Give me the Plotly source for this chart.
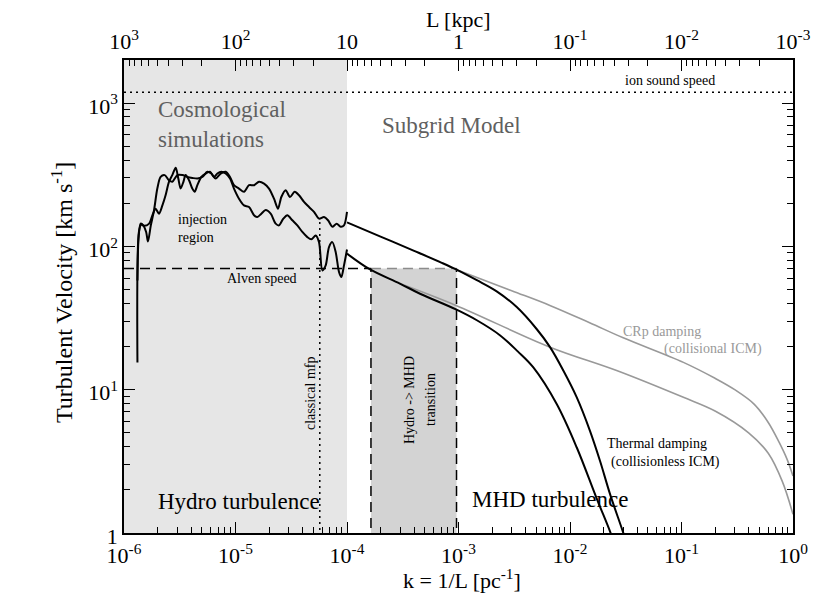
import plotly.graph_objects as go

# ---------------- data ----------------
# simulated spectra (two runs), k in pc^-1, v in km/s
k_sim_a = [1.32e-6, 1.35e-6, 1.41e-6, 1.49e-6, 1.58e-6, 1.64e-6, 1.74e-6, 1.86e-6, 1.99e-6, 2.13e-6,
           2.32e-6, 2.53e-6, 2.71e-6, 3.01e-6, 3.34e-6, 3.70e-6, 4.10e-6, 4.55e-6, 5.04e-6, 5.59e-6,
           6.07e-6, 6.64e-6, 7.36e-6, 8.16e-6, 8.93e-6, 9.69e-6, 1.075e-5, 1.192e-5, 1.322e-5, 1.466e-5,
           1.625e-5, 1.802e-5, 1.998e-5, 2.215e-5, 2.406e-5, 2.577e-5, 2.818e-5, 3.082e-5, 3.394e-5, 3.712e-5,
           4.116e-5, 4.564e-5, 5.058e-5, 5.610e-5, 6.219e-5, 6.754e-5, 7.386e-5, 8.079e-5, 8.775e-5, 9.400e-5,
           1.0e-4]
v_sim_a = [57.8, 113, 144, 140, 126, 108, 140, 179, 253, 305,
           314, 289, 282, 314, 314, 305, 300, 297, 305, 331,
           322, 297, 322, 331, 305, 267, 253, 240, 267, 267,
           282, 274, 253, 215, 183, 221, 246, 221, 240, 227,
           204, 188, 174, 156, 160, 152, 137, 144, 137, 140,
           174]

k_sim_b = [1.32e-6, 1.36e-6, 1.43e-6, 1.51e-6, 1.68e-6, 1.80e-6, 1.92e-6, 2.06e-6, 2.21e-6, 2.36e-6,
           2.53e-6, 2.71e-6, 2.91e-6, 3.07e-6, 3.22e-6, 3.41e-6, 3.57e-6, 3.83e-6, 4.10e-6, 4.30e-6,
           4.55e-6, 4.94e-6, 5.40e-6, 5.91e-6, 6.42e-6, 6.87e-6, 7.46e-6, 8.16e-6, 8.93e-6, 9.69e-6,
           1.075e-5, 1.192e-5, 1.322e-5, 1.466e-5, 1.570e-5, 1.705e-5, 1.865e-5, 2.068e-5, 2.293e-5, 2.455e-5,
           2.685e-5, 2.917e-5, 3.234e-5, 3.586e-5, 3.977e-5, 4.410e-5, 4.788e-5, 5.236e-5, 5.610e-5, 6.009e-5,
           6.438e-5, 6.895e-5, 7.386e-5, 7.914e-5, 8.477e-5, 8.897e-5, 9.400e-5, 1.0e-4]
v_sim_b = [15.5, 126, 142, 139, 144, 165, 183, 169, 193, 227,
           282, 314, 353, 297, 253, 282, 314, 289, 253, 240,
           267, 305, 322, 331, 305, 322, 331, 322, 297, 253,
           215, 193, 188, 165, 160, 169, 179, 169, 144, 140,
           156, 165, 152, 140, 126, 116, 112, 119, 107, 67.9,
           73.6, 98.9, 107, 91.3, 66.2, 61.0, 73.6, 95]

# subgrid model: thermal damping (collisionless ICM), two cases
k_therm_a = [1.0e-4, 2.0e-4, 4.0e-4, 7.0e-4, 9.5e-4, 1.46e-3, 2.20e-3, 3.33e-3, 5.02e-3, 6.62e-3,
             8.71e-3, 1.15e-2, 1.51e-2, 1.86e-2, 2.29e-2, 2.97e-2, 3.3e-2]
v_therm_a = [147, 117, 93, 77, 69, 58, 48.5, 37.7, 26.5, 19.8,
             13.6, 8.83, 5.16, 3.18, 1.86, 1.03, 0.8]
k_therm_b = [1.0e-4, 1.61e-4, 2.98e-4, 4.52e-4, 9.5e-4, 1.46e-3, 2.35e-3, 3.4e-3, 4.69e-3, 7.60e-3,
             1.15e-2, 1.73e-2, 2.37e-2, 2.6e-2]
v_therm_b = [89, 69, 55, 46.7, 36.3, 30.5, 24.0, 18.5, 14.3, 7.94,
             3.95, 1.75, 0.95, 0.75]

# subgrid model: CRp damping (collisional ICM), two cases
k_crp_a = [9.5e-4, 3.0e-3, 6.6e-3, 1.5e-2, 3.0e-2, 0.104, 0.2, 0.3, 0.45, 0.6, 0.75, 0.88, 1.0]
v_crp_a = [69, 49, 38.7, 29.3, 23.0, 15.5, 12.0, 10.0, 7.9, 5.9, 4.3, 3.3, 2.5]
k_crp_b = [2.98e-4, 9.5e-4, 6.62e-3, 2.62e-2, 0.104, 0.2, 0.4, 0.6, 0.8, 1.0]
v_crp_b = [55, 38.7, 19.8, 13.6, 8.84, 7.1, 5.0, 3.6, 2.3, 1.35]

# characteristic speeds / scales
v_alfven = 70
v_ion_sound = 1190
k_mfp = 5.7e-5
v_mfp_top = 150
k_sim_range = [1e-6, 1e-4]
k_transition = [1.64e-4, 9.6e-4]
k_full = [1e-6, 1.0]

# tick labels
x_tickvals = [1e-6, 1e-5, 1e-4, 1e-3, 1e-2, 1e-1, 1]
x_ticktext = ['10<sup>-6</sup>', '10<sup>-5</sup>', '10<sup>-4</sup>', '10<sup>-3</sup>',
              '10<sup>-2</sup>', '10<sup>-1</sup>', '10<sup>0</sup>']
y_tickvals = [1, 10, 100, 1000]
y_ticktext = ['1', '10<sup>1</sup>', '10<sup>2</sup>', '10<sup>3</sup>']
top_tickvals = [1e3, 1e2, 10, 1, 0.1, 0.01, 0.001]
top_ticktext = ['10<sup>3</sup>', '10<sup>2</sup>', '10', '1', '10<sup>-1</sup>',
                '10<sup>-2</sup>', '10<sup>-3</sup>']

# ---------------- figure ----------------
FONT = "Liberation Serif"
OFF = 8                       # page body margin of the browser
W, H = 830 - OFF, 593 - OFF
L_M, R_M, T_M, B_M = 116, 37, 52, 60
X0, Y0 = OFF + L_M, OFF + T_M          # plot-area corner in page pixels
PW, PH = W - L_M - R_M, H - T_M - B_M


def px(x):
    return (x - X0) / PW


def py(y):
    return (Y0 + PH - y) / PH


fig = go.Figure()

y_lo, y_hi = 0.3, 5000
# light gray: cosmological simulations region
fig.add_trace(go.Scatter(x=[k_sim_range[0], k_sim_range[1], k_sim_range[1], k_sim_range[0], k_sim_range[0]],
                         y=[y_lo, y_lo, y_hi, y_hi, y_lo], fill='toself', fillcolor='#e6e6e6',
                         line=dict(width=0), mode='lines', hoverinfo='skip', showlegend=False))
# transition box
fig.add_trace(go.Scatter(x=[k_transition[0], k_transition[1], k_transition[1], k_transition[0], k_transition[0]],
                         y=[y_lo, y_lo, v_alfven, v_alfven, y_lo], fill='toself', fillcolor='#d3d3d3',
                         line=dict(width=0), mode='lines', hoverinfo='skip', showlegend=False))
# box top (gray dashed)
fig.add_trace(go.Scatter(x=k_transition, y=[v_alfven, v_alfven], mode='lines',
                         line=dict(color='#8c8c8c', width=1.5, dash='10px,6px'), showlegend=False, hoverinfo='skip'))
# box sides
for kk in k_transition:
    fig.add_trace(go.Scatter(x=[kk, kk], y=[y_lo, v_alfven], mode='lines',
                             line=dict(color='black', width=1.5, dash='10px,6px'), showlegend=False, hoverinfo='skip'))
# Alfven speed
fig.add_trace(go.Scatter(x=[k_full[0], k_transition[0]], y=[v_alfven, v_alfven], mode='lines',
                         line=dict(color='black', width=1.5, dash='10px,6px'), showlegend=False, hoverinfo='skip'))
# ion sound speed
fig.add_trace(go.Scatter(x=k_full, y=[v_ion_sound, v_ion_sound], mode='lines',
                         line=dict(color='black', width=1.5, dash='2px,4px'), showlegend=False, hoverinfo='skip'))
# classical mfp
fig.add_trace(go.Scatter(x=[k_mfp, k_mfp], y=[y_lo, v_mfp_top], mode='lines',
                         line=dict(color='black', width=1.5, dash='2px,4px'), showlegend=False, hoverinfo='skip'))

# CRp damping (gray)
for kx, vy in [(k_crp_a, v_crp_a), (k_crp_b, v_crp_b)]:
    fig.add_trace(go.Scatter(x=kx, y=vy, mode='lines', line=dict(color='#999999', width=1.6, shape='spline'),
                             showlegend=False, hoverinfo='skip'))
# thermal damping (black)
for kx, vy in [(k_therm_a, v_therm_a), (k_therm_b, v_therm_b)]:
    fig.add_trace(go.Scatter(x=kx, y=vy, mode='lines', line=dict(color='black', width=2, shape='spline'),
                             showlegend=False, hoverinfo='skip'))
# simulations
for kx, vy in [(k_sim_a, v_sim_a), (k_sim_b, v_sim_b)]:
    fig.add_trace(go.Scatter(x=kx, y=vy, mode='lines', line=dict(color='black', width=2, shape='spline', smoothing=0.8),
                             showlegend=False, hoverinfo='skip'))

# dummy trace for the top axis (L in kpc)
fig.add_trace(go.Scatter(x=[1e3, 1e-3], y=[10, 10], xaxis='x2', mode='markers',
                         marker=dict(opacity=0), showlegend=False, hoverinfo='skip'))


def minor_vals(lo, hi):
    return [m * 10 ** e for e in range(lo, hi) for m in range(2, 10)]


axis_common = dict(type='log', showgrid=False, zeroline=False, showline=True, linecolor='black', linewidth=1.5,
                   ticks='inside', ticklen=11, tickwidth=1.2, tickcolor='black',
                   tickfont=dict(family=FONT, size=22, color='black'), automargin=False)
minor_common = dict(tickmode='array', ticks='inside', ticklen=6, tickwidth=1.2, tickcolor='black')

fig.update_layout(
    width=W, height=H, margin=dict(l=L_M, r=R_M, t=T_M, b=B_M, autoexpand=False),
    paper_bgcolor='white', plot_bgcolor='white',
    font=dict(family=FONT, color='black'),
    xaxis=dict(**axis_common, range=[-6, 0], tickmode='array', tickvals=x_tickvals, ticktext=x_ticktext,
               ticklabelstandoff=2, minor=dict(**minor_common, tickvals=minor_vals(-6, 0))),
    xaxis2=dict(**axis_common, range=[3, -3], overlaying='x', side='top', anchor='y',
                tickmode='array', tickvals=top_tickvals, ticktext=top_ticktext, ticklabelstandoff=0,
                minor=dict(**minor_common, tickvals=minor_vals(-3, 3))),
    yaxis=dict(**axis_common, range=[0, 3.30], tickmode='array', tickvals=y_tickvals, ticktext=y_ticktext,
               mirror='ticks', ticklabelshift=3, minor=dict(**minor_common, tickvals=minor_vals(0, 4))),
)


def note(text, x, y, size=14, color='black', xanchor='left', angle=0):
    fig.add_annotation(text=text, x=px(x), y=py(y), xref='paper', yref='paper', showarrow=False,
                       xanchor=xanchor, yanchor='middle', textangle=angle, borderpad=0,
                       font=dict(family=FONT, size=size, color=color))


# axis titles
note('k = 1/L [pc<sup>-1</sup>]', 462, 579, size=22, xanchor='center')
note('L [kpc]', 458, 20, size=22, xanchor='center')
note('Turbulent Velocity [km s<sup>-1</sup>]', 62, 293, size=24, xanchor='center', angle=-90)

# in-plot labels
note('Cosmological', 157, 110, size=23, color='#606060')
note('simulations', 157, 139, size=23, color='#606060')
note('Subgrid Model', 381, 125, size=23, color='#606060')
note('Hydro turbulence', 157, 501, size=23)
note('MHD turbulence', 471, 499, size=23)
note('injection', 177, 220)
note('region', 177, 237)
note('Alven speed', 262, 278, xanchor='center')
note('ion sound speed', 670, 81, xanchor='center')
note('classical mfp', 310, 394, xanchor='center', angle=-90)
note('Hydro -> MHD', 410, 400, xanchor='center', angle=-90)
note('transition', 431, 400, xanchor='center', angle=-90)
note('CRp damping', 622, 331, color='#999999')
note('(collisional ICM)', 663, 349, color='#999999')
note('Thermal damping', 606, 443)
note('(collisionless ICM)', 610, 462)

fig.write_html("out.html")
